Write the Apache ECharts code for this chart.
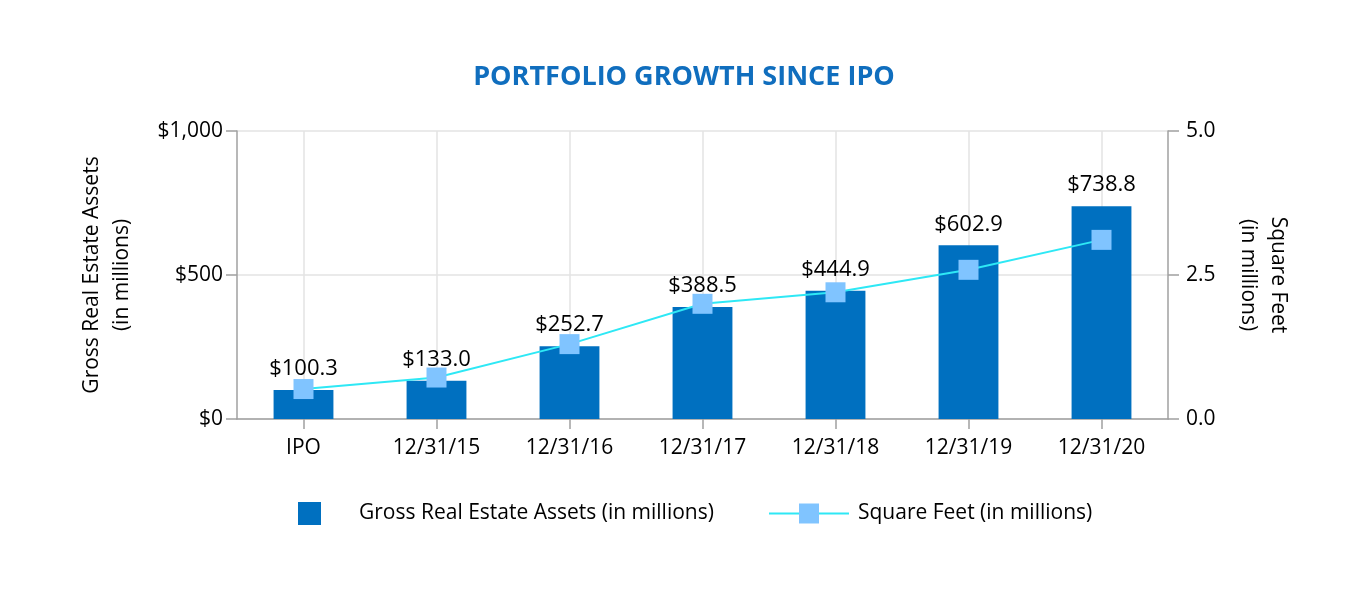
<!DOCTYPE html>
<html>
<head>
<meta charset="utf-8">
<script src="https://cdn.jsdelivr.net/npm/echarts@6/dist/echarts.min.js"></script>
<style>
html,body{margin:0;padding:0;background:#fff;}
#chart{width:1368px;height:600px;}
</style>
</head>
<body>
<div id="chart"></div>
<script>
const categories = ['IPO', '12/31/15', '12/31/16', '12/31/17', '12/31/18', '12/31/19', '12/31/20'];
const grossAssets = [100.3, 133.0, 252.7, 388.5, 444.9, 602.9, 738.8];
const squareFeet = [0.52, 0.72, 1.30, 2.00, 2.20, 2.59, 3.11];
const leftTicks = [0, 500, 1000];
const rightTicks = [0, 2.5, 5];

const FONT = '"Open Sans", sans-serif';
const chart = echarts.init(document.getElementById('chart'), null, {renderer: 'canvas'});
chart.setOption({
  animation: false,
  backgroundColor: '#ffffff',
  textStyle: {fontFamily: FONT},
  title: {
    text: 'PORTFOLIO GROWTH SINCE IPO',
    left: 'center',
    top: 59,
    textStyle: {fontFamily: FONT, fontSize: 27, fontWeight: 'bold', color: '#106EBE'}
  },
  legend: [
    {
      data: ['Gross Real Estate Assets (in millions)'],
      left: 298, top: 502, padding: 0,
      icon: 'rect',
      itemWidth: 23, itemHeight: 23,
      textStyle: {fontFamily: FONT, fontSize: 21, color: '#000', padding: [5, 0, 0, 33]}
    },
    {
      data: ['Square Feet (in millions)'],
      left: 768, top: 503, padding: 0,
      itemWidth: 80, itemHeight: 25,
      textStyle: {fontFamily: FONT, fontSize: 21, color: '#000', padding: [4, 0, 0, 4]}
    }
  ],
  grid: {left: 237, right: 200, top: 131, bottom: 181, containLabel: false},
  xAxis: {
    type: 'category',
    data: categories,
    boundaryGap: true,
    axisLine: {lineStyle: {color: '#a0a0a0', width: 1.5}},
    axisTick: {show: true, alignWithLabel: true, length: 10, lineStyle: {color: '#a0a0a0', width: 1.5}},
    axisLabel: {fontFamily: FONT, fontSize: 21, color: '#000', margin: 19},
    splitLine: {show: false}
  },
  yAxis: [
    {
      type: 'value', min: leftTicks[0], max: leftTicks[2], interval: leftTicks[1] - leftTicks[0],
      position: 'left',
      name: 'Gross Real Estate Assets\n(in millions)',
      nameLocation: 'middle', nameGap: 100, nameRotate: 90,
      nameTextStyle: {fontFamily: FONT, fontSize: 21, color: '#000', lineHeight: 30},
      axisLine: {show: true, lineStyle: {color: '#a0a0a0', width: 1.5}},
      axisTick: {show: true, length: 11, lineStyle: {color: '#a0a0a0', width: 1.5}},
      axisLabel: {fontFamily: FONT, fontSize: 21, color: '#000', margin: 14,
        formatter: v => '$' + v.toLocaleString('en-US')},
      splitLine: {show: true, lineStyle: {color: '#e3e3e3', width: 1.5}}
    },
    {
      type: 'value', min: rightTicks[0], max: rightTicks[2], interval: rightTicks[1] - rightTicks[0],
      position: 'right',
      name: 'Square Feet\n(in millions)',
      nameLocation: 'middle', nameGap: 65, nameRotate: -90,
      nameTextStyle: {fontFamily: FONT, fontSize: 21, color: '#000', lineHeight: 30},
      axisLine: {show: true, lineStyle: {color: '#a0a0a0', width: 1.5}},
      axisTick: {show: true, length: 11, lineStyle: {color: '#a0a0a0', width: 1.5}},
      axisLabel: {fontFamily: FONT, fontSize: 21, color: '#000', margin: 18,
        formatter: v => v.toFixed(1)},
      splitLine: {show: false}
    }
  ],
  series: [
    {
      name: 'Gross Real Estate Assets (in millions)',
      type: 'bar',
      yAxisIndex: 0,
      data: grossAssets,
      barWidth: '45%',
      itemStyle: {color: '#0070C0'},
      label: {
        show: true, position: 'top', distance: 10,
        fontFamily: FONT, fontSize: 22, color: '#000',
        formatter: p => '$' + p.value.toFixed(1)
      },
      markLine: {
        silent: true, z: 1,
        symbol: ['none', 'none'],
        label: {show: false},
        lineStyle: {color: '#e3e3e3', type: 'solid', width: 1.5},
        data: categories.map(c => ({xAxis: c}))
      }
    },
    {
      name: 'Square Feet (in millions)',
      type: 'line',
      yAxisIndex: 1,
      data: squareFeet,
      symbol: 'rect',
      symbolSize: 20,
      lineStyle: {color: '#2EE8F5', width: 2},
      itemStyle: {color: '#80C4FF'},
      z: 3
    }
  ]
});
</script>
</body>
</html>
